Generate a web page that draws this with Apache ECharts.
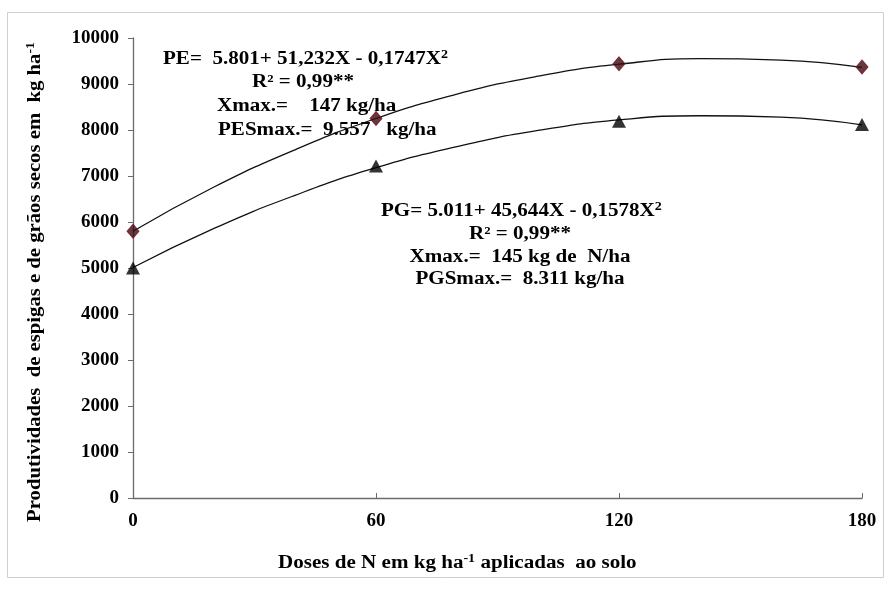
<!DOCTYPE html>
<html>
<head>
<meta charset="utf-8">
<script src="https://cdn.jsdelivr.net/npm/echarts@6/dist/echarts.min.js"></script>
<style>
  html, body { margin: 0; padding: 0; background: #fff; }
  #chart { width: 891px; height: 589px; }
</style>
</head>
<body>
<div id="chart"></div>
<script>
// doses de N (kg/ha)
var doses = [0, 60, 120, 180];
// produtividade de espigas (PE) e de grãos (PG), observados
var pe = [5800, 8250, 9440, 9370];
var pg = [5000, 7220, 8190, 8120];
// curvas ajustadas
var curveX = [0, 20, 40, 60, 80, 100, 120, 140, 160, 180];
var peCurve = [5800, 6760, 7570, 8250, 8780, 9170, 9430, 9550, 9520, 9360];
var pgCurve = [5010, 5860, 6580, 7180, 7640, 7990, 8220, 8310, 8280, 8110];
var yTicks = [0, 1000, 2000, 3000, 4000, 5000, 6000, 7000, 8000, 9000, 10000];

var serif = '"Liberation Serif", "Times New Roman", serif';
var stretch = 1.17; // o texto do original está esticado na horizontal

function pairs(xs, ys) {
    return xs.map(function (x, i) { return [x, ys[i]]; });
}

var myChart = echarts.init(document.getElementById('chart'));

var sup = { fontSize: 12, verticalAlign: 'top', padding: [0, 0, 9, 0], fontWeight: 'bold', fontFamily: serif, fill: '#000' };
function txt(x, y, text, align, size) {
    return {
        type: 'text',
        x: x,
        y: y,
        scaleX: stretch,
        style: {
            text: text,
            fontFamily: serif,
            fontWeight: 'bold',
            fontSize: size || 18,
            fill: '#000',
            align: align || 'left',
            verticalAlign: 'middle',
            rich: { s: sup }
        }
    };
}

myChart.setOption({
    animation: false,
    backgroundColor: '#fff',
    grid: { left: 133, right: 29, top: 38, bottom: 91 },
    xAxis: {
        type: 'value',
        min: 0,
        max: 180,
        interval: 60,
        axisLine: { lineStyle: { color: '#6b6b6b', width: 1.3 } },
        axisTick: { inside: true, length: 5, lineStyle: { color: '#6b6b6b' } },
        splitLine: { show: false },
        axisLabel: { color: '#000', fontFamily: serif, fontWeight: 'bold', fontSize: 19, margin: 14 }
    },
    yAxis: {
        type: 'value',
        min: yTicks[0],
        max: yTicks[yTicks.length - 1],
        interval: 1000,
        axisLine: { show: true, lineStyle: { color: '#6b6b6b', width: 1.3 } },
        axisTick: { show: true, length: 5, lineStyle: { color: '#6b6b6b' } },
        splitLine: { show: false },
        axisLabel: {
            color: '#000', fontFamily: serif, fontWeight: 'bold', fontSize: 19, margin: 14,
            formatter: function (v) { return String(v); }
        }
    },
    series: [
        {
            type: 'line',
            data: pairs(curveX, peCurve),
            smooth: true,
            symbol: 'none',
            lineStyle: { color: '#111', width: 1.3 },
            z: 2
        },
        {
            type: 'line',
            data: pairs(curveX, pgCurve),
            smooth: true,
            symbol: 'none',
            lineStyle: { color: '#111', width: 1.3 },
            z: 2
        },
        {
            type: 'scatter',
            data: pairs(doses, pe),
            symbol: 'diamond',
            symbolSize: [12, 14],
            itemStyle: { color: '#3a0a10', borderColor: '#7a1420', borderWidth: 1 },
            z: 3
        },
        {
            type: 'scatter',
            data: pairs(doses, pg),
            symbol: 'triangle',
            symbolSize: [14, 13],
            itemStyle: { color: '#000' },
            z: 3
        }
    ],
    graphic: [
        {
            type: 'rect',
            shape: { x: 7.5, y: 12.5, width: 876, height: 565 },
            style: { fill: 'none', stroke: '#cfcfcf', lineWidth: 1 },
            silent: true
        },
        {
            type: 'text',
            x: 35,
            y: 282,
            rotation: Math.PI / 2,
            scaleX: 1.15,
            style: {
                text: 'Produtividades  de espigas e de grãos secos em  kg ha{s|-1}',
                fontFamily: serif,
                fontWeight: 'bold',
                fontSize: 18,
                fill: '#000',
                align: 'center',
                verticalAlign: 'middle',
                rich: { s: sup }
            }
        },
        txt(278, 563, 'Doses de N em kg ha{s|-1} aplicadas  ao solo', 'left', 18),
        txt(163, 59, 'PE=  5.801+ 51,232X - 0,1747X{s|2}'),
        txt(303, 82, 'R² = 0,99**', 'center'),
        txt(217, 106, 'Xmax.=    147 kg/ha'),
        txt(218, 130, 'PESmax.=  9.557   kg/ha'),
        txt(381, 211, 'PG= 5.011+ 45,644X - 0,1578X{s|2}'),
        txt(520, 234, 'R² = 0,99**', 'center'),
        txt(520, 257, 'Xmax.=  145 kg de  N/ha', 'center'),
        txt(520, 279, 'PGSmax.=  8.311 kg/ha', 'center')
    ]
});
</script>
</body>
</html>
